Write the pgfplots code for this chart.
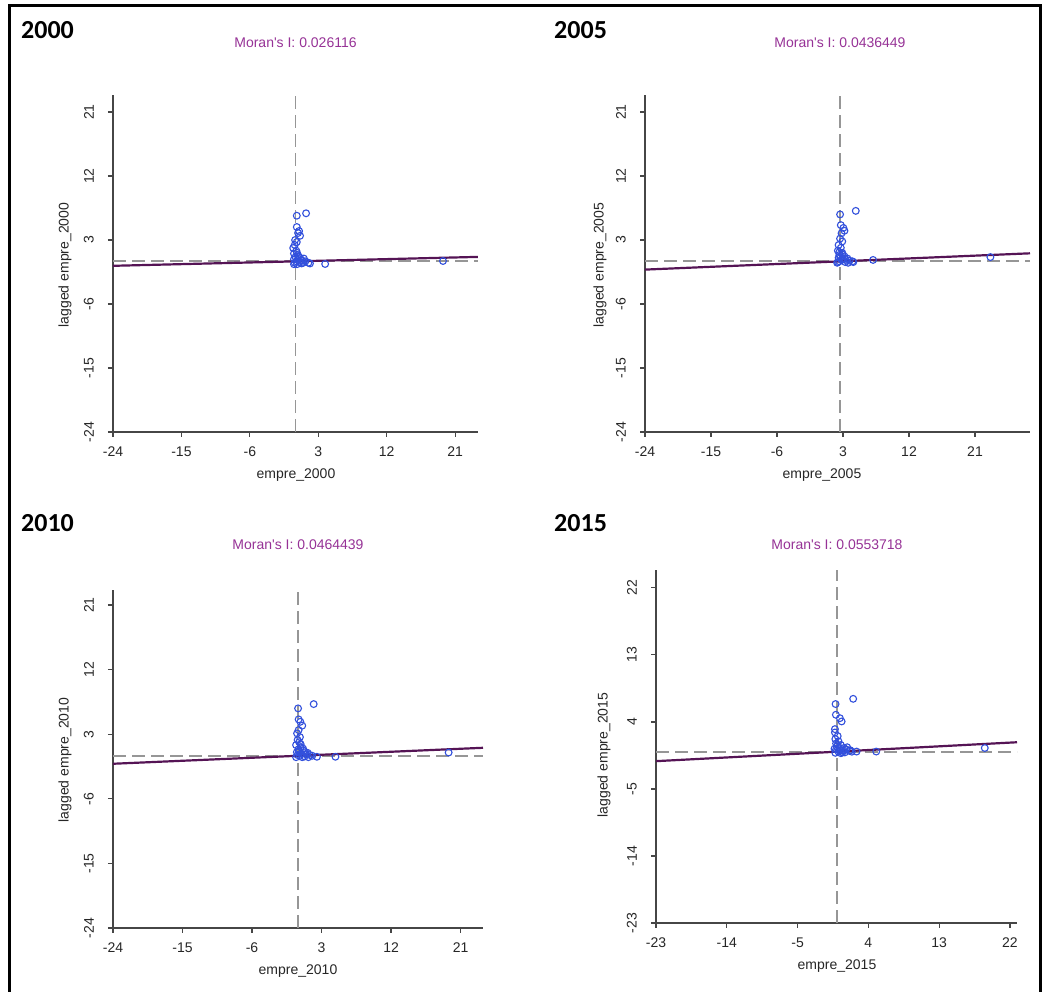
\documentclass[border=0pt]{standalone}
\usepackage{pgfplots}
\pgfplotsset{compat=1.18}
\usepackage{fontspec}
\setmainfont{Liberation Sans}
\newfontfamily\rf{Liberation Sans}
\newfontfamily\yearfont{Carlito}
\definecolor{moran}{RGB}{150,50,150}
\definecolor{regline}{RGB}{85,20,85}
\definecolor{ptblue}{RGB}{50,80,220}
\definecolor{axisgray}{RGB}{70,70,70}
\definecolor{dashgray}{RGB}{150,150,150}
\pgfplotsset{rstyle/.style={
  scale only axis, anchor=south west,
  axis x line*=bottom, axis y line*=left,
  axis line style={axisgray, line width=1.6pt, -},
  tick align=outside, major tick length=5pt,
  tick style={axisgray, line width=1.2pt},
  every tick label/.append style={font=\rf\fontsize{14}{16}\selectfont, text=black!85},
  yticklabel style={xshift=-13pt, rotate=90, anchor=south, inner sep=1pt},
  xticklabel style={yshift=-9pt, inner sep=1pt},
  clip=true,
},
dashl/.style={dashgray, line width=1.8pt, dash pattern=on 13pt off 6pt},
regl/.style={regline, line width=2.2pt},
pts/.style={only marks, mark=o, mark size=3.4pt, mark options={ptblue, line width=1.1pt}},
}
\begin{document}
\begin{tikzpicture}[x=1pt,y=1pt]
\useasboundingbox (0,0) rectangle (1042,992);
\draw[black, line width=3pt] (9,0) -- (9,986.5) -- (1040.5,986.5) -- (1040.5,0);
% ---------- Panel 1: 2000
\begin{axis}[rstyle, at={(113pt,560pt)}, width=365pt, height=337pt,
  xmin=-24, xmax=24, ymin=-24, ymax=23.4,
  xtick={-24,-15,-6,3,12,21}, xticklabels={-24,-15,-6,3,12,21},
  ytick={-24,-15,-6,3,12,21}, yticklabels={-24,-15,-6,3,12,21}]
\addplot[dashl] coordinates {(0,-24) (0,23.4)};
\addplot[dashl] coordinates {(-24,0) (24,0)};
\addplot[regl] coordinates {(-24,-0.627) (24,0.627)};
\addplot[pts] coordinates {
(0.17,6.42) (1.39,6.76) (0.17,4.83) (0.47,4.27) (0.34,3.99) (0.6,3.6) (-0.05,3.0) (0.17,2.72)
(-0.1,2.3) (-0.3,1.88) (0.1,1.5) (-0.2,1.1) (0.3,0.9) (0.0,0.6) (0.6,0.5) (-0.2,0.3)
(0.3,0.2) (0.9,0.1) (1.3,0.0) (0.5,-0.1) (-0.1,-0.2) (1.7,-0.2) (0.2,-0.4) (0.8,-0.3)
(1.1,0.4) (0.1,0.0) (1.9,-0.3) (0.4,0.7) (0.7,0.2) (-0.2,-0.4) (1.0,-0.2) (0.2,1.2)
(3.9,-0.37) (19.4,0.05)};
\end{axis}
% ---------- Panel 2: 2005
\begin{axis}[rstyle, at={(645pt,560pt)}, width=385pt, height=337pt,
  xmin=-24, xmax=28.5, ymin=-24, ymax=23.4,
  xtick={-24,-15,-6,3,12,21}, xticklabels={-24,-15,-6,3,12,21},
  ytick={-24,-15,-6,3,12,21}, yticklabels={-24,-15,-6,3,12,21}]
\addplot[dashl] coordinates {(2.6,-24) (2.6,23.4)};
\addplot[dashl] coordinates {(-24,0) (28.5,0)};
\addplot[regl] coordinates {(-24,-1.16) (28.5,1.13)};
\addplot[pts] coordinates {
(2.6,6.6) (4.74,7.1) (2.7,5.1) (3.05,4.7) (2.8,3.95) (3.2,4.3) (2.6,3.2) (2.9,2.8)
(2.4,2.3) (2.7,1.9) (2.3,1.5) (2.9,1.2) (2.5,0.9) (3.2,0.7) (2.4,0.5) (3.6,0.4)
(2.8,0.2) (3.9,0.1) (2.5,0.0) (3.3,-0.1) (4.3,0.0) (2.2,-0.2) (3.0,0.3) (4.4,-0.1)
(2.7,0.6) (3.4,0.2) (2.3,-0.1) (3.7,-0.2) (2.9,1.0) (2.5,1.3)
(7.1,0.2) (23.1,0.6)};
\end{axis}
% ---------- Panel 3: 2010
\begin{axis}[rstyle, at={(113pt,64pt)}, width=370pt, height=338pt,
  xmin=-24, xmax=23.9, ymin=-24, ymax=23.1,
  xtick={-24,-15,-6,3,12,21}, xticklabels={-24,-15,-6,3,12,21},
  ytick={-24,-15,-6,3,12,21}, yticklabels={-24,-15,-6,3,12,21}]
\addplot[dashl] coordinates {(0,-24) (0,23.1)};
\addplot[dashl] coordinates {(-24,0) (23.9,0)};
\addplot[regl] coordinates {(-24,-1.115) (23.9,1.11)};
\addplot[pts] coordinates {
(-0.04,6.6) (1.98,7.2) (0.03,5.07) (0.25,4.73) (0.5,4.2) (0.03,3.58) (-0.17,3.12) (0.2,2.6)
(-0.1,2.2) (0.1,1.9) (-0.3,1.5) (0.3,1.2) (0.0,0.9) (0.7,0.7) (-0.2,0.5) (0.4,0.3)
(1.0,0.2) (1.5,0.1) (0.2,0.0) (0.8,-0.1) (1.8,0.0) (-0.3,-0.2) (1.2,0.4) (0.5,-0.2)
(0.1,0.6) (0.9,0.5) (-0.1,0.1) (1.3,-0.2) (0.6,1.0) (0.3,1.6)
(2.4,-0.14) (4.8,-0.14) (19.45,0.45)};
\end{axis}
% ---------- Panel 4: 2015
\begin{axis}[rstyle, at={(656pt,69pt)}, width=361pt, height=353pt,
  xmin=-23, xmax=22.9, ymin=-23, ymax=24.4,
  xtick={-23,-14,-5,4,13,22}, xticklabels={-23,-14,-5,4,13,22},
  ytick={-23,-14,-5,4,13,22}, yticklabels={-23,-14,-5,4,13,22}]
\addplot[dashl] coordinates {(0,-23) (0,24.4)};
\addplot[dashl] coordinates {(-23,0) (22.9,0)};
\addplot[regl] coordinates {(-23,-1.27) (22.9,1.27)};
\addplot[pts] coordinates {
(-0.17,6.4) (2.07,7.1) (-0.13,4.96) (0.38,4.5) (0.6,4.06) (-0.25,3.03) (-0.25,2.58) (0.1,2.1)
(-0.2,1.7) (0.2,1.4) (-0.1,1.1) (0.5,0.9) (0.0,0.7) (0.9,0.5) (-0.3,0.4) (0.4,0.2)
(1.2,0.3) (1.6,0.1) (0.2,0.0) (0.7,-0.1) (1.7,0.2) (-0.2,-0.15) (1.0,-0.1) (0.3,0.5)
(0.1,0.9) (0.8,0.2) (-0.1,0.3) (1.3,0.6) (0.5,-0.2) (1.9,0.0)
(2.5,0.02) (5.0,0.02) (18.8,0.5)};
\end{axis}
% ---------- Texts
\node[font=\yearfont\bfseries\fontsize{26}{28}\selectfont, anchor=west, inner sep=0] at (21,962) {2000};
\node[font=\yearfont\bfseries\fontsize{26}{28}\selectfont, anchor=west, inner sep=0] at (554,962) {2005};
\node[font=\yearfont\bfseries\fontsize{26}{28}\selectfont, anchor=west, inner sep=0] at (21,469) {2010};
\node[font=\yearfont\bfseries\fontsize{26}{28}\selectfont, anchor=west, inner sep=0] at (554,469) {2015};
\node[font=\rf\fontsize{14}{16}\selectfont, text=moran] at (295.5,949) {Moran's I: 0.026116};
\node[font=\rf\fontsize{14}{16}\selectfont, text=moran] at (840,949) {Moran's I: 0.0436449};
\node[font=\rf\fontsize{14}{16}\selectfont, text=moran] at (298,447) {Moran's I: 0.0464439};
\node[font=\rf\fontsize{14}{16}\selectfont, text=moran] at (837,447) {Moran's I: 0.0553718};
\node[font=\rf\fontsize{14}{16}\selectfont, text=black!85] at (296,517) {empre\_2000};
\node[font=\rf\fontsize{14}{16}\selectfont, text=black!85] at (822,517) {empre\_2005};
\node[font=\rf\fontsize{14}{16}\selectfont, text=black!85] at (298,21) {empre\_2010};
\node[font=\rf\fontsize{14}{16}\selectfont, text=black!85] at (837,26) {empre\_2015};
\node[font=\rf\fontsize{14}{16}\selectfont, text=black!85, rotate=90] at (65,727) {lagged empre\_2000};
\node[font=\rf\fontsize{14}{16}\selectfont, text=black!85, rotate=90] at (600,727) {lagged empre\_2005};
\node[font=\rf\fontsize{14}{16}\selectfont, text=black!85, rotate=90] at (65,232) {lagged empre\_2010};
\node[font=\rf\fontsize{14}{16}\selectfont, text=black!85, rotate=90] at (604,237) {lagged empre\_2015};
\end{tikzpicture}
\end{document}
